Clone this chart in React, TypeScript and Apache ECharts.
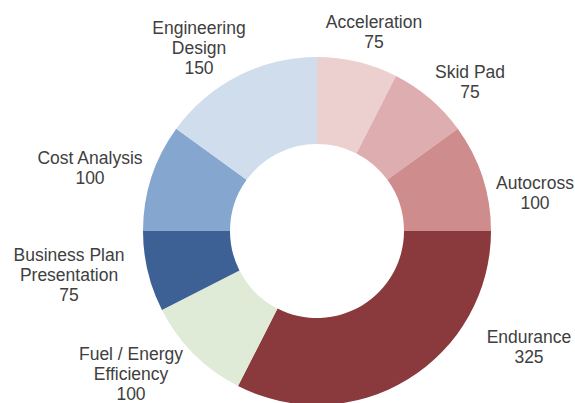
import React, { useEffect, useRef } from "react";
import * as echarts from "echarts";

const categories = [
  "Acceleration",
  "Skid Pad",
  "Autocross",
  "Endurance",
  "Fuel / Energy\nEfficiency",
  "Business Plan\nPresentation",
  "Cost Analysis",
  "Engineering\nDesign",
];
const values = [75, 75, 100, 325, 100, 75, 100, 150];
const colors = [
  "#ECD0D0",
  "#DDADAF",
  "#CE8C8D",
  "#8A393C",
  "#DFEAD7",
  "#3D6195",
  "#85A6CF",
  "#CFDDED",
];
// label block centres (layout, not data)
const labelAnchors: [number, number][] = [
  [374, 32],
  [470, 82],
  [535, 193],
  [529, 347],
  [131, 374],
  [69, 275],
  [90, 168],
  [199, 48],
];

export default function App() {
  const ref = useRef<HTMLDivElement>(null);
  useEffect(() => {
    document.body.style.margin = "0";
    if (!ref.current) return;
    const chart = echarts.init(ref.current, undefined, { renderer: "svg" });
    chart.setOption({
      animation: false,
      backgroundColor: "#ffffff",
      series: [
        {
          type: "pie",
          center: [317, 231],
          radius: [87, 174],
          startAngle: 90,
          clockwise: true,
          silent: true,
          avoidLabelOverlap: false,
          itemStyle: { borderWidth: 0 },
          label: {
            show: true,
            position: "outside",
            formatter: "{b}\n{c}",
            color: "#404040",
            fontFamily: "Liberation Sans, Arial, sans-serif",
            fontSize: 17.5,
            lineHeight: 20,
            align: "center",
            overflow: "none",
            edgeDistance: 0,
          },
          labelLine: { show: false },
          labelLayout: (params: any) => {
            const p = labelAnchors[params.dataIndex];
            return {
              x: p[0],
              y: p[1],
              align: "center",
              verticalAlign: "middle",
            };
          },
          data: categories.map((name, i) => ({
            name,
            value: values[i],
            itemStyle: { color: colors[i] },
          })),
        },
      ],
    });
    return () => chart.dispose();
  }, []);
  return <div ref={ref} style={{ width: 575, height: 403 }} />;
}
